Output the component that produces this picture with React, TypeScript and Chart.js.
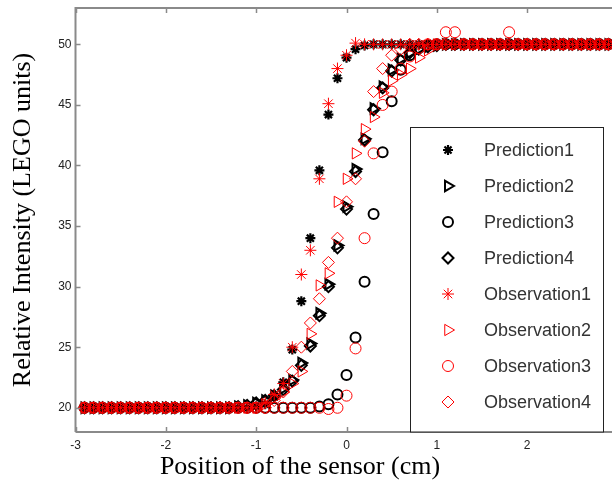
import React, { useEffect, useRef } from 'react';
import { Chart, registerables } from 'chart.js';
import { drawPoint } from 'chart.js/helpers';

Chart.register(...registerables);

// Sensor positions (cm)
const xPositions = [
  -2.9, -2.8, -2.7, -2.6, -2.5, -2.4, -2.3, -2.2, -2.1, -2.0,
  -1.9, -1.8, -1.7, -1.6, -1.5, -1.4, -1.3, -1.2, -1.1, -1.0,
  -0.9, -0.8, -0.7, -0.6, -0.5, -0.4, -0.3, -0.2, -0.1, 0.0,
  0.1, 0.2, 0.3, 0.4, 0.5, 0.6, 0.7, 0.8, 0.9, 1.0,
  1.1, 1.2, 1.3, 1.4, 1.5, 1.6, 1.7, 1.8, 1.9, 2.0,
  2.1, 2.2, 2.3, 2.4, 2.5, 2.6, 2.7, 2.8, 2.9, 3.0,
];

const prediction1 = [
  20, 20, 20, 20, 20, 20, 20, 20, 20, 20,
  20, 20, 20, 20, 20, 20, 20, 20, 20, 20.1,
  20.3, 20.9, 22.1, 24.8, 28.8, 34.0, 39.6, 44.2, 47.2, 48.9,
  49.6, 49.9, 50, 50, 50, 50, 50, 50, 50, 50,
  50, 50, 50, 50, 50, 50, 50, 50, 50, 50,
  50, 50, 50, 50, 50, 50, 50, 50, 50, 50,
];

const prediction2 = [
  20, 20, 20, 20, 20, 20, 20, 20, 20, 20,
  20, 20, 20, 20, 20, 20, 20, 20.1, 20.2, 20.4,
  20.6, 21.0, 21.6, 22.3, 23.7, 25.3, 27.8, 30.2, 33.4, 36.6,
  39.7, 42.2, 44.7, 46.5, 47.9, 48.8, 49.3, 49.6, 49.8, 49.9,
  50, 50, 50, 50, 50, 50, 50, 50, 50, 50,
  50, 50, 50, 50, 50, 50, 50, 50, 50, 50,
];

const prediction3 = [
  20, 20, 20, 20, 20, 20, 20, 20, 20, 20,
  20, 20, 20, 20, 20, 20, 20, 20, 20, 20,
  20, 20, 20, 20, 20, 20, 20.1, 20.3, 21.1, 22.7,
  25.8, 30.4, 36.0, 41.1, 45.3, 47.9, 49.1, 49.7, 49.9, 50,
  50, 50, 50, 50, 50, 50, 50, 50, 50, 50,
  50, 50, 50, 50, 50, 50, 50, 50, 50, 50,
];

const prediction4 = [
  20, 20, 20, 20, 20, 20, 20, 20, 20, 20,
  20, 20, 20, 20, 20, 20, 20, 20.1, 20.2, 20.4,
  20.6, 21.0, 21.5, 22.2, 23.5, 25.1, 27.6, 30.0, 33.2, 36.4,
  39.5, 42.1, 44.6, 46.4, 47.8, 48.7, 49.3, 49.6, 49.8, 49.9,
  50, 50, 50, 50, 50, 50, 50, 50, 50, 50,
  50, 50, 50, 50, 50, 50, 50, 50, 50, 50,
];

const observation1 = [
  20, 20, 20, 20, 20, 20, 20, 20, 20, 20,
  20, 20, 20, 20, 20, 20, 20, 20, 20, 20,
  20.4, 21.1, 22.0, 25.0, 31.0, 33.0, 38.9, 45.1, 48.0, 49.1,
  50.1, 50, 50, 50, 50, 50, 50, 50, 50, 50,
  50, 50, 50, 50, 50, 50, 50, 50, 50, 50,
  50, 50, 50, 50, 50, 50, 50, 50, 50, 50,
];

const observation2 = [
  20, 20, 20, 20, 20, 20, 20, 20, 20, 20,
  20, 20, 20, 20, 20, 20, 20, 20, 20, 20,
  20.3, 20.8, 21.3, 22.0, 23.0, 26.1, 30.1, 31.1, 37.0, 38.9,
  41.0, 43.0, 44.0, 46.0, 47.0, 47.5, 48.0, 48.9, 49.5, 50,
  50, 50, 50, 50, 50, 50, 50, 50, 50, 50,
  50, 50, 50, 50, 50, 50, 50, 50, 50, 50,
];

const observation3 = [
  20, 20, 20, 20, 20, 20, 20, 20, 20, 20,
  20, 20, 20, 20, 20, 20, 20, 20, 20, 20,
  20, 20, 20, 20, 20, 20, 20, 19.9, 20.0, 21.0,
  24.9, 34.0, 41.0, 45.0, 46.1, 48.0, 49.0, 49.7, 50, 50,
  51, 51, 50, 50, 50, 50, 50, 51, 50, 50,
  50, 50, 50, 50, 50, 50, 50, 50, 50, 50,
];

const observation4 = [
  20, 20, 20, 20, 20, 20, 20, 20, 20, 20,
  20, 20, 20, 20, 20, 20, 20, 20, 20, 20,
  20, 20.6, 21.3, 23.0, 25.0, 27.0, 29.0, 32.0, 34.0, 37.0,
  38.9, 42.0, 46.1, 48.0, 49.1, 49.6, 50, 50, 50, 50,
  50, 50, 50, 50, 50, 50, 50, 50, 50, 50,
  50, 50, 50, 50, 50, 50, 50, 50, 50, 50,
];

const seriesLabels = [
  'Prediction1', 'Prediction2', 'Prediction3', 'Prediction4',
  'Observation1', 'Observation2', 'Observation3', 'Observation4',
];
const xTickValues = [-3, -2, -1, 0, 1, 2, 3];
const yTickValues = [20, 25, 30, 35, 40, 45, 50];
const xAxisTitle = 'Position of the sensor (cm)';
const yAxisTitle = 'Relative Intensity (LEGO units)';

const SANS = "Arial, 'Liberation Sans', Helvetica, sans-serif";
const SERIF = "'Times New Roman', 'Liberation Serif', Times, serif";

const CANVAS_W = 640;
const CANVAS_H = 486;
const PLOT_TOP = 5;
const PLOT_BOTTOM = 432;
const PLOT_LEFT = 75.5;
const PLOT_RIGHT = 617.5;

type Style = { pointStyle: string; rotation: number; radius: number; width: number; color: string };
const styles: Style[] = [
  { pointStyle: 'star', rotation: 0, radius: 5, width: 2.2, color: '#000000' },
  { pointStyle: 'triangle', rotation: 90, radius: 6, width: 2, color: '#000000' },
  { pointStyle: 'circle', rotation: 0, radius: 5, width: 2, color: '#000000' },
  { pointStyle: 'rectRot', rotation: 0, radius: 5.5, width: 2, color: '#000000' },
  { pointStyle: 'star', rotation: 0, radius: 6, width: 1, color: '#ff0000' },
  { pointStyle: 'triangle', rotation: 90, radius: 6.5, width: 1, color: '#ff0000' },
  { pointStyle: 'circle', rotation: 0, radius: 5.5, width: 1, color: '#ff0000' },
  { pointStyle: 'rectRot', rotation: 0, radius: 6, width: 1, color: '#ff0000' },
];

const allSeries = [
  prediction1, prediction2, prediction3, prediction4,
  observation1, observation2, observation3, observation4,
];

const framePlugin = {
  id: 'matlabFrame',
  afterDraw(chart: any) {
    const { ctx, chartArea, scales } = chart;
    const { left, top, right, bottom } = chartArea;
    ctx.save();
    // axes frame
    ctx.strokeStyle = '#8a8a8a';
    ctx.lineWidth = 2;
    ctx.beginPath();
    ctx.moveTo(left, bottom);
    ctx.lineTo(left, top);
    ctx.lineTo(right, top);
    ctx.lineTo(right, bottom);
    ctx.lineTo(left, bottom);
    ctx.stroke();
    // tick marks (inside)
    ctx.lineWidth = 1.5;
    const tl = 5;
    ctx.beginPath();
    for (const v of xTickValues) {
      const px = Math.round(scales.x.getPixelForValue(v)) + 0.5;
      ctx.moveTo(px, bottom);
      ctx.lineTo(px, bottom - tl);
      ctx.moveTo(px, top);
      ctx.lineTo(px, top + tl);
    }
    for (const v of yTickValues) {
      const py = Math.round(scales.y.getPixelForValue(v)) + 0.5;
      ctx.moveTo(left, py);
      ctx.lineTo(left + tl, py);
      ctx.moveTo(right, py);
      ctx.lineTo(right - tl, py);
    }
    ctx.stroke();

    // x axis title
    ctx.fillStyle = '#000000';
    ctx.font = `26px ${SERIF}`;
    ctx.textAlign = 'center';
    ctx.textBaseline = 'middle';
    ctx.fillText(xAxisTitle, 300, 467);

    // legend
    const bx = 410.5, by = 127.5, bw = 193, bh = bottom - by;
    ctx.fillStyle = '#ffffff';
    ctx.fillRect(bx, by, bw, bh);
    ctx.strokeStyle = '#222222';
    ctx.lineWidth = 1;
    ctx.strokeRect(bx, by, bw, bh);
    const rowY = [150, 186, 222, 258, 294, 330, 366, 402];
    ctx.font = `18px ${SANS}`;
    ctx.textAlign = 'left';
    ctx.textBaseline = 'middle';
    seriesLabels.forEach((label, i) => {
      const s = styles[i];
      ctx.strokeStyle = s.color;
      ctx.fillStyle = 'rgba(0,0,0,0)';
      ctx.lineWidth = s.width;
      drawPoint(ctx, { pointStyle: s.pointStyle, rotation: s.rotation, radius: s.radius, borderWidth: s.width } as any, 448, rowY[i]);
      ctx.fillStyle = '#333333';
      ctx.fillText(label, 484, rowY[i] + 1);
    });
    ctx.restore();
  },
};

export default function App() {
  const canvasRef = useRef<HTMLCanvasElement | null>(null);

  useEffect(() => {
    const canvas = canvasRef.current;
    if (!canvas) return;
    const datasets = allSeries.map((vals, i) => ({
      label: seriesLabels[i],
      data: xPositions.map((x, j) => ({ x, y: vals[j] })),
      showLine: false,
      pointStyle: styles[i].pointStyle,
      pointRotation: styles[i].rotation,
      pointRadius: styles[i].radius,
      pointBorderWidth: styles[i].width,
      pointBorderColor: styles[i].color,
      pointBackgroundColor: 'rgba(0,0,0,0)',
      borderColor: styles[i].color,
      backgroundColor: 'rgba(0,0,0,0)',
      order: i < 4 ? 1 : 0,
    }));

    const chart = new Chart(canvas, {
      type: 'scatter',
      data: { datasets },
      options: {
        responsive: false,
        animation: false,
        devicePixelRatio: 1,
        layout: { padding: { left: 0, top: PLOT_TOP, right: CANVAS_W - PLOT_RIGHT, bottom: 0 } },
        plugins: { legend: { display: false }, tooltip: { enabled: false } },
        scales: {
          x: {
            type: 'linear',
            min: -3,
            max: 3,
            grid: { display: false, drawTicks: false },
            border: { display: false },
            afterBuildTicks: (scale: any) => { scale.ticks = xTickValues.map((v) => ({ value: v })); },
            afterFit: (scale: any) => {
              scale.height = CANVAS_H - PLOT_BOTTOM;
              scale.paddingLeft = 0;
              scale.paddingRight = 0;
            },
            ticks: {
              padding: 6,
              color: '#222222',
              font: { family: SANS, size: 12 },
              maxRotation: 0,
              autoSkip: false,
            },
          },
          y: {
            type: 'linear',
            min: 18,
            max: 53,
            grid: { display: false, drawTicks: false },
            border: { display: false },
            afterBuildTicks: (scale: any) => { scale.ticks = yTickValues.map((v) => ({ value: v })); },
            afterFit: (scale: any) => {
              scale.width = PLOT_LEFT;
              scale.paddingTop = 0;
              scale.paddingBottom = 0;
            },
            ticks: {
              padding: 4,
              color: '#222222',
              font: { family: SANS, size: 12 },
              autoSkip: false,
            },
            title: {
              display: true,
              text: yAxisTitle,
              color: '#000000',
              font: { family: SERIF, size: 26 },
              padding: { top: 8, bottom: 0 },
            },
          },
        },
      },
      plugins: [framePlugin],
    });
    return () => chart.destroy();
  }, []);

  return (
    <div style={{ position: 'absolute', left: 0, top: 0, width: 612, height: 486, overflow: 'hidden', background: '#fff' }}>
      <canvas ref={canvasRef} width={CANVAS_W} height={CANVAS_H} style={{ width: CANVAS_W, height: CANVAS_H, display: 'block' }} />
    </div>
  );
}
